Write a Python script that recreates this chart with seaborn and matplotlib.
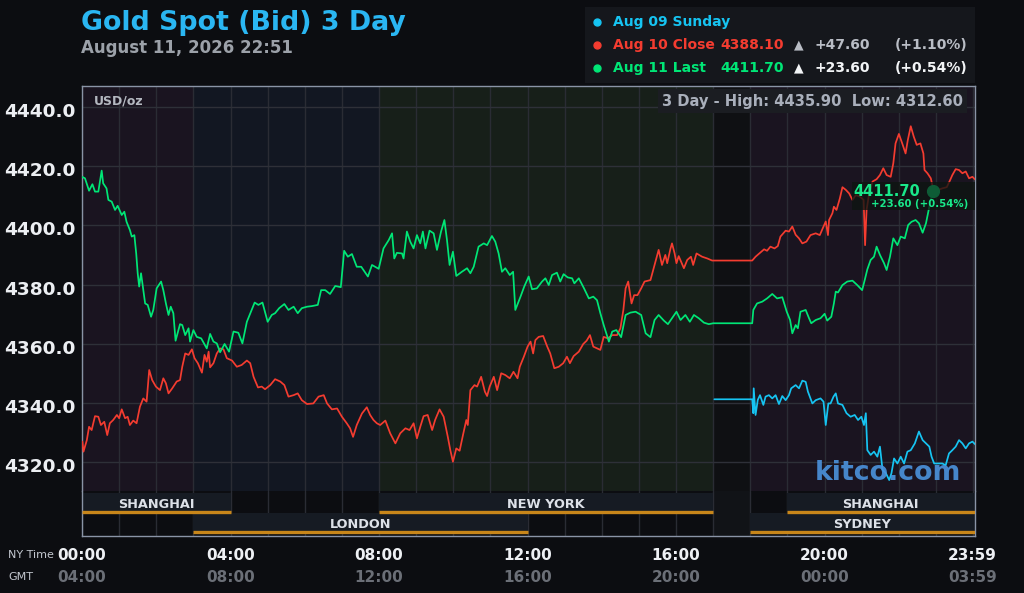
import matplotlib
matplotlib.use("Agg")
import matplotlib.pyplot as plt
import matplotlib.transforms as mtransforms
from matplotlib.patches import Rectangle
from matplotlib.lines import Line2D
import pandas as pd
import seaborn as sns

# --- data (NY time in hours, USD/oz) ---
aug11_hours = [0.0, 0.08, 0.19, 0.28, 0.35, 0.44, 0.53, 0.57, 0.66, 0.71, 0.8, 0.89, 0.96, 1.07, 1.14, 1.2,
               1.29, 1.34, 1.41, 1.46, 1.5, 1.54, 1.59, 1.65, 1.7, 1.77, 1.86, 1.92, 2.01, 2.13, 2.19, 2.26,
               2.33, 2.39, 2.46, 2.52, 2.64, 2.7, 2.78, 2.87, 2.91, 3.0, 3.09, 3.21, 3.36, 3.45, 3.54, 3.63,
               3.72, 3.84, 3.96, 4.08, 4.21, 4.32, 4.44, 4.65, 4.75, 4.86, 5.0, 5.11, 5.2, 5.31, 5.45, 5.56,
               5.7, 5.81, 5.92, 6.06, 6.19, 6.35, 6.44, 6.55, 6.68, 6.82, 6.97, 7.06, 7.16, 7.27, 7.4, 7.52,
               7.7, 7.81, 7.99, 8.12, 8.26, 8.35, 8.41, 8.48, 8.62, 8.66, 8.75, 8.84, 8.93, 9.02, 9.11, 9.18,
               9.25, 9.36, 9.47, 9.56, 9.67, 9.76, 9.83, 9.9, 9.99, 10.08, 10.23, 10.37, 10.46, 10.55, 10.68,
               10.82, 10.91, 11.04, 11.13, 11.22, 11.31, 11.4, 11.52, 11.61, 11.67, 11.81, 11.91, 12.03, 12.12,
               12.25, 12.39, 12.48, 12.57, 12.66, 12.79, 12.88, 12.97, 13.08, 13.2, 13.26, 13.38, 13.52, 13.65,
               13.77, 13.87, 13.96, 14.05, 14.19, 14.28, 14.39, 14.52, 14.64, 14.77, 14.91, 15.06, 15.18, 15.31,
               15.42, 15.53, 15.67, 15.78, 15.89, 16.01, 16.12, 16.25, 16.37, 16.48, 16.61, 16.75, 16.88, 17.0,
               18.05, 18.08, 18.18, 18.32, 18.45, 18.59, 18.72, 18.86, 18.98, 19.07, 19.13, 19.22, 19.28, 19.35,
               19.49, 19.58, 19.64, 19.76, 19.89, 20.0, 20.07, 20.18, 20.25, 20.3, 20.36, 20.48, 20.61, 20.75,
               20.88, 21.01, 21.08, 21.15, 21.24, 21.33, 21.4, 21.49, 21.6, 21.67, 21.76, 21.85, 21.96, 22.05,
               22.16, 22.25, 22.34, 22.45, 22.54, 22.64, 22.73, 22.82, 22.91]
aug11_prices = [4416.4, 4415.9, 4411.7, 4413.9, 4411.4, 4411.4, 4418.5, 4414.2, 4412.5, 4408.6, 4408.0, 4405.2,
                4406.6, 4403.5, 4404.6, 4401.2, 4398.4, 4396.2, 4396.7, 4390.5, 4383.8, 4379.3, 4383.8, 4378.1,
                4373.6, 4373.1, 4369.1, 4371.4, 4378.7, 4381.0, 4378.1, 4373.6, 4369.7, 4372.5, 4370.3, 4361.0,
                4366.6, 4366.3, 4362.9, 4365.2, 4360.7, 4364.6, 4362.3, 4361.8, 4358.4, 4363.3, 4360.7, 4360.1,
                4357.1, 4359.9, 4357.3, 4364.1, 4363.7, 4360.1, 4367.4, 4373.9, 4373.1, 4373.9, 4367.4, 4369.7,
                4370.3, 4372.0, 4373.4, 4371.4, 4372.5, 4370.3, 4372.0, 4372.5, 4372.7, 4373.1, 4378.1, 4378.1,
                4376.8, 4379.5, 4379.1, 4391.4, 4389.4, 4390.3, 4386.0, 4386.0, 4382.7, 4386.6, 4385.3, 4392.2,
                4395.0, 4397.3, 4388.8, 4390.7, 4390.5, 4388.8, 4397.9, 4394.5, 4392.2, 4396.7, 4393.9, 4397.9,
                4392.2, 4398.2, 4397.3, 4391.7, 4397.9, 4401.8, 4395.0, 4386.6, 4391.1, 4382.9, 4384.3, 4385.5,
                4383.8, 4386.0, 4392.8, 4393.9, 4393.3, 4396.4, 4394.5, 4390.5, 4384.3, 4385.5, 4383.2, 4384.3,
                4371.4, 4375.9, 4379.3, 4382.7, 4378.4, 4378.7, 4381.0, 4382.1, 4379.8, 4383.2, 4384.0, 4381.0,
                4383.5, 4382.4, 4382.1, 4380.4, 4382.1, 4378.7, 4375.3, 4375.9, 4374.7, 4370.3, 4366.3, 4360.7,
                4364.1, 4364.6, 4362.2, 4369.7, 4370.5, 4370.8, 4369.7, 4363.5, 4362.2, 4368.0, 4369.7, 4367.8,
                4366.6, 4368.6, 4370.8, 4368.0, 4369.7, 4367.4, 4369.7, 4368.6, 4367.1, 4366.6, 4366.9, 4366.9,
                4371.4, 4373.6, 4374.2, 4375.3, 4376.8, 4375.3, 4375.7, 4370.8, 4368.0, 4363.5, 4366.3, 4365.2,
                4370.8, 4371.4, 4368.6, 4366.9, 4368.0, 4368.6, 4370.1, 4367.8, 4369.1, 4373.6, 4377.6, 4377.3,
                4379.8, 4381.0, 4381.3, 4379.8, 4378.1, 4381.5, 4385.1, 4388.3, 4389.4, 4392.8, 4390.0, 4387.2,
                4384.9, 4389.4, 4395.6, 4393.3, 4396.2, 4395.6, 4400.1, 4401.2, 4401.8, 4400.7, 4397.5, 4400.7,
                4406.3, 4411.7]

aug10_hours = [0.01, 0.04, 0.13, 0.19, 0.26, 0.35, 0.44, 0.51, 0.6, 0.68, 0.75, 0.84, 0.94, 1.0, 1.07, 1.16,
               1.23, 1.29, 1.38, 1.47, 1.56, 1.65, 1.74, 1.81, 1.89, 1.99, 2.1, 2.19, 2.26, 2.33, 2.43, 2.55,
               2.64, 2.7, 2.78, 2.87, 2.96, 3.03, 3.12, 3.23, 3.3, 3.36, 3.41, 3.45, 3.54, 3.63, 3.72, 3.81,
               3.9, 4.04, 4.17, 4.3, 4.44, 4.53, 4.62, 4.74, 4.84, 4.93, 5.07, 5.2, 5.34, 5.45, 5.56, 5.7,
               5.81, 5.92, 6.06, 6.23, 6.37, 6.51, 6.6, 6.73, 6.87, 7.0, 7.13, 7.22, 7.3, 7.4, 7.54, 7.67,
               7.76, 7.85, 7.94, 8.03, 8.17, 8.3, 8.44, 8.57, 8.71, 8.82, 8.93, 9.02, 9.11, 9.2, 9.31, 9.43,
               9.51, 9.63, 9.74, 9.85, 9.92, 9.99, 10.08, 10.17, 10.26, 10.35, 10.39, 10.46, 10.57, 10.64,
               10.75, 10.85, 10.91, 10.98, 11.09, 11.18, 11.29, 11.4, 11.52, 11.62, 11.73, 11.79, 11.9, 12.0,
               12.08, 12.15, 12.21, 12.3, 12.42, 12.53, 12.61, 12.72, 12.84, 12.96, 13.06, 13.14, 13.24, 13.38,
               13.5, 13.59, 13.68, 13.77, 13.87, 13.96, 14.05, 14.16, 14.28, 14.41, 14.5, 14.58, 14.64, 14.71,
               14.76, 14.8, 14.87, 14.96, 15.06, 15.15, 15.31, 15.42, 15.53, 15.62, 15.71, 15.76, 15.85, 15.89,
               15.96, 16.01, 16.07, 16.21, 16.3, 16.4, 16.46, 16.55, 16.7, 16.84, 16.97, 18.05, 18.14, 18.26,
               18.37, 18.45, 18.54, 18.65, 18.74, 18.81, 18.95, 19.04, 19.13, 19.22, 19.31, 19.4, 19.51, 19.62,
               19.76, 19.87, 19.97, 20.03, 20.09, 20.12, 20.21, 20.25, 20.32, 20.41, 20.48, 20.57, 20.66, 20.75,
               20.84, 20.95, 21.05, 21.09, 21.13, 21.2, 21.29, 21.4, 21.49, 21.58, 21.67, 21.78, 21.85, 21.91,
               22.0, 22.09, 22.18, 22.24, 22.32, 22.4, 22.48, 22.58, 22.66, 22.69, 22.77, 22.86, 22.93, 23.04,
               23.17, 23.29, 23.38, 23.44, 23.53, 23.62, 23.71, 23.8, 23.89, 23.98, 24.07]
aug10_prices = [4326.9, 4323.5, 4327.4, 4331.9, 4330.8, 4335.5, 4335.3, 4332.5, 4333.6, 4329.1, 4333.1, 4334.2,
                4335.9, 4334.8, 4337.8, 4334.8, 4335.3, 4332.5, 4334.0, 4333.1, 4338.7, 4341.5, 4340.4, 4351.1,
                4347.7, 4345.5, 4344.3, 4348.3, 4346.6, 4343.2, 4344.9, 4347.2, 4347.7, 4352.2, 4356.7, 4356.2,
                4358.1, 4355.1, 4353.4, 4350.2, 4356.2, 4353.9, 4357.3, 4352.0, 4353.4, 4356.7, 4358.4, 4358.1,
                4355.1, 4354.3, 4352.2, 4352.8, 4354.3, 4353.4, 4348.8, 4345.2, 4345.5, 4344.6, 4346.0, 4348.0,
                4347.2, 4346.0, 4342.1, 4342.6, 4343.2, 4340.9, 4339.6, 4339.8, 4342.1, 4342.6, 4339.8, 4337.8,
                4338.1, 4335.3, 4333.1, 4331.4, 4328.5, 4332.5, 4336.4, 4338.5, 4335.9, 4334.2, 4333.1, 4332.5,
                4334.0, 4329.7, 4326.3, 4329.7, 4331.4, 4330.8, 4333.1, 4328.0, 4331.9, 4335.5, 4335.9, 4330.8,
                4334.2, 4337.8, 4335.3, 4328.6, 4324.0, 4320.1, 4324.6, 4323.8, 4329.1, 4334.2, 4332.5, 4344.3,
                4346.0, 4345.5, 4348.8, 4343.8, 4342.3, 4345.5, 4348.8, 4344.3, 4350.0, 4349.4, 4348.3, 4350.5,
                4348.3, 4352.2, 4355.6, 4359.0, 4360.7, 4356.7, 4361.2, 4362.3, 4362.6, 4359.0, 4356.7, 4351.7,
                4352.2, 4353.4, 4355.6, 4353.4, 4355.8, 4357.3, 4359.9, 4361.0, 4362.9, 4359.0, 4358.4, 4357.9,
                4362.3, 4361.8, 4362.9, 4362.9, 4365.2, 4371.4, 4378.7, 4381.0, 4377.0, 4373.6, 4376.4, 4376.4,
                4378.7, 4381.0, 4381.5, 4386.6, 4391.7, 4386.6, 4390.0, 4387.2, 4392.2, 4393.9, 4390.5, 4387.2,
                4389.6, 4385.5, 4388.3, 4389.4, 4386.6, 4390.5, 4389.4, 4388.8, 4388.1, 4388.1, 4389.4, 4390.7,
                4391.9, 4391.4, 4392.8, 4392.2, 4393.0, 4396.2, 4398.2, 4397.9, 4399.6, 4396.8, 4395.6, 4393.9,
                4394.5, 4396.7, 4397.3, 4396.7, 4399.6, 4401.3, 4396.7, 4401.8, 4404.1, 4406.3, 4405.2, 4409.1,
                4412.9, 4412.0, 4410.8, 4408.6, 4410.2, 4409.7, 4408.6, 4393.3, 4405.2, 4410.8, 4414.8, 4415.6,
                4417.0, 4419.3, 4417.0, 4416.4, 4421.0, 4427.7, 4430.9, 4427.7, 4424.3, 4428.8, 4433.5, 4430.0,
                4427.2, 4427.7, 4424.3, 4418.7, 4417.6, 4415.9, 4411.9, 4411.9, 4412.5, 4412.9, 4415.3, 4417.0,
                4419.0, 4418.7, 4417.6, 4418.2, 4415.9, 4416.4, 4415.3]

aug09_hours = [17.03, 18.05, 18.08, 18.09, 18.14, 18.2, 18.26, 18.35, 18.41, 18.5, 18.59, 18.68, 18.77, 18.86,
               18.95, 19.04, 19.1, 19.22, 19.31, 19.4, 19.49, 19.55, 19.67, 19.76, 19.89, 19.97, 20.03, 20.1,
               20.16, 20.24, 20.3, 20.36, 20.48, 20.59, 20.7, 20.81, 20.9, 20.99, 21.06, 21.11, 21.15, 21.24,
               21.33, 21.42, 21.49, 21.56, 21.65, 21.74, 21.8, 21.87, 21.96, 22.05, 22.14, 22.23, 22.32, 22.43,
               22.54, 22.64, 22.73, 22.82, 22.88, 22.95, 23.06, 23.17, 23.26, 23.35, 23.44, 23.53, 23.62, 23.71,
               23.8, 23.89, 23.98, 24.07]
aug09_prices = [4341.2, 4341.2, 4336.5, 4344.9, 4335.9, 4341.0, 4342.6, 4339.3, 4342.1, 4342.6, 4341.5, 4342.6,
                4339.6, 4342.3, 4340.9, 4342.6, 4344.9, 4346.0, 4344.9, 4347.5, 4347.1, 4343.8, 4339.8, 4340.9,
                4341.5, 4340.4, 4332.5, 4339.8, 4339.8, 4342.1, 4343.2, 4339.8, 4339.3, 4336.5, 4335.3, 4335.9,
                4334.2, 4335.3, 4332.5, 4336.5, 4324.0, 4322.4, 4323.5, 4321.8, 4325.2, 4317.3, 4316.2, 4313.9,
                4316.2, 4321.2, 4319.5, 4321.8, 4319.5, 4323.5, 4324.0, 4326.3, 4330.3, 4327.4, 4326.3, 4325.2,
                4321.8, 4319.5, 4319.5, 4319.5, 4318.9, 4322.9, 4324.0, 4325.2, 4327.4, 4326.3, 4324.6, 4326.3,
                4326.9, 4325.8]

y_ticks = [4320, 4340, 4360, 4380, 4400, 4420, 4440]
ny_ticks = [0, 4, 8, 12, 16, 20, 23.98]
ny_labels = ["00:00", "04:00", "08:00", "12:00", "16:00", "20:00", "23:59"]
gmt_labels = ["04:00", "08:00", "12:00", "16:00", "20:00", "00:00", "03:59"]

# shaded trading periods in the price panel (start, end, colour)
shade_spans = [(0, 3, "#1a1420"), (3, 8, "#121722"), (8, 17, "#171f19"),
               (17, 18, "#0f1013"), (18, 24.1, "#1a1420")]
# exchange sessions: (name, start, end, row)
sessions = [("SHANGHAI", 0, 4, 1), ("LONDON", 3, 12, 0), ("NEW YORK", 8, 17, 1),
            ("SHANGHAI", 19, 24.1, 1), ("SYDNEY", 18, 24.1, 0)]

BG = "#0c0d11"
GREEN = "#00e676"
RED = "#f43c30"
BLUE = "#16c4f2"

sns.set_theme(style="dark")
plt.rcParams["font.family"] = ["DejaVu Sans"]

fig = plt.figure(figsize=(10.24, 5.93), dpi=100, facecolor=BG)


def px(x, y):
    return x / 1024, 1 - y / 593


ax = fig.add_axes([82 / 1024, 1 - 491 / 593, 893 / 1024, 405 / 593])
sx = fig.add_axes([82 / 1024, 1 - 536 / 593, 893 / 1024, 45 / 593], sharex=ax)

for a in (ax, sx):
    a.set_facecolor(BG)
    a.set_xlim(0, 24.05)
    a.set_xticks(range(0, 25))
    a.grid(True, axis="x", color="#2a2c34", linewidth=1.0)
    a.tick_params(axis="x", length=0, labelbottom=False)
    for s in a.spines.values():
        s.set_color("#8a94a6")
        s.set_linewidth(1.0)

ax.spines["bottom"].set_visible(False)
sx.spines["top"].set_visible(False)

for start, end, col in shade_spans:
    ax.axvspan(start, end, color=col, zorder=0, lw=0)

ax.set_ylim(4310.2, 4447.1)
ax.set_yticks(y_ticks)
ax.set_yticklabels([f"{v:.1f}" for v in y_ticks])
ax.grid(True, axis="y", color="#2e3038", linewidth=1.0)
ax.tick_params(axis="y", length=0, pad=5, labelsize=13.3, labelcolor="#eceef2")
for lab in ax.get_yticklabels():
    lab.set_fontweight("bold")
    lab.set_transform(lab.get_transform() + mtransforms.ScaledTranslation(0, -3 / 100, fig.dpi_scale_trans))

frames = [
    pd.DataFrame({"hour": aug10_hours, "price": aug10_prices}),
    pd.DataFrame({"hour": aug11_hours, "price": aug11_prices}),
    pd.DataFrame({"hour": aug09_hours, "price": aug09_prices}),
]
for df, col in zip(frames, [RED, GREEN, BLUE]):
    sns.lineplot(data=df, x="hour", y="price", ax=ax, color=col, linewidth=1.25,
                 estimator=None, sort=False, legend=False, zorder=3)
ax.set_xlabel("")
ax.set_ylabel("")

# last price marker and label box (box given in pixels around the last point)
last_h, last_p = aug11_hours[-1], aug11_prices[-1]
at_last = mtransforms.IdentityTransform() + mtransforms.ScaledTranslation(last_h, last_p, ax.transData)
ax.add_patch(Rectangle((-81, -19.5), 126, 28, transform=at_last, facecolor="#0e1511", edgecolor="none",
                       alpha=0.78, zorder=4))
ax.plot([last_h], [last_p], marker="o", markersize=8.5, color="#0e5c36", zorder=5)
ax.annotate("4411.70", xy=(last_h, last_p), xytext=(-79, -1), textcoords="offset pixels",
            ha="left", va="center", color="#19e88a", fontsize=10.5, fontweight="bold", zorder=6)
ax.annotate("+23.60 (+0.54%)", xy=(last_h, last_p), xytext=(-62, -13), textcoords="offset pixels",
            ha="left", va="center", color="#19e88a", fontsize=7.3, fontweight="bold", zorder=6)

ax.text(0.0134, 0.962, "USD/oz", transform=ax.transAxes, color="#b4b8c0", fontsize=9,
        fontweight="bold", va="center", ha="left")
ax.text(21.71, 4316.2, "kitco.com", color="#4b93de", fontsize=19.3, fontweight="bold",
        ha="center", va="center", alpha=0.9, zorder=7)

# high / low box
ax.text(0.9865, 0.962, "3 Day - High: 4435.90  Low: 4312.60", transform=ax.transAxes, ha="right",
        va="center", color="#a9afbb", fontsize=10.6, fontweight="bold", zorder=8,
        bbox=dict(boxstyle="square,pad=0.3", fc="#1b1d22", ec="none"))

# session panel
sx.set_ylim(0, 45)
sx.set_yticks([])
sx.axvspan(17, 18, color="#111317", lw=0, zorder=0)
for name, start, end, row in sessions:
    y0 = 3 + row * 20
    sx.add_patch(Rectangle((start, y0), end - start, 20, color="#161b23", lw=0, zorder=1))
    sx.hlines(y0 + 1.5, start, end, color="#c8861a", linewidth=2.4, zorder=3)
    sx.text((start + min(end, 24)) / 2, y0 + 8.5, name, ha="center", va="center", color="#dde1e8",
            fontsize=9.3, fontweight="bold", zorder=4)

# x labels: NY time and GMT
blend = mtransforms.blended_transform_factory(ax.transData, fig.transFigure)
for h, ny, gmt in zip(ny_ticks, ny_labels, gmt_labels):
    fig.text(h, 1 - 555 / 593, ny, transform=blend, ha="center", va="center", color="#eef0f4",
             fontsize=11, fontweight="bold")
    fig.text(h, 1 - 577 / 593, gmt, transform=blend, ha="center", va="center", color="#6b6f77",
             fontsize=11, fontweight="bold")
fig.text(*px(8, 555), "NY Time", ha="left", va="center", color="#c4c8d0", fontsize=8)
fig.text(*px(8, 577), "GMT", ha="left", va="center", color="#c4c8d0", fontsize=8)

# title
fig.text(*px(81, 23), "Gold Spot (Bid) 3 Day", ha="left", va="center", color="#2ab6f2",
         fontsize=19.3, fontweight="bold")
fig.text(*px(81, 48), "August 11, 2026 22:51", ha="left", va="center", color="#9ca1a9",
         fontsize=12, fontweight="bold")

# legend box
fig.patches.append(Rectangle(px(585, 83), 390 / 1024, 76 / 593, transform=fig.transFigure,
                             facecolor="#15171c", edgecolor="none", zorder=0))
rows = [
    (22, BLUE, "Aug 09 Sunday", None),
    (45, RED, "Aug 10 Close", ("4388.10", "+47.60", "(+1.10%)", "#b9bdc5")),
    (68, GREEN, "Aug 11 Last", ("4411.70", "+23.60", "(+0.54%)", "#f2f4f6")),
]
for y, col, label, extra in rows:
    fig.add_artist(Line2D([597 / 1024], [1 - y / 593], marker="o", markersize=5, color=col,
                          transform=fig.transFigure))
    fig.text(*px(613, y), label, ha="left", va="center", color=col, fontsize=10, fontweight="bold")
    if extra:
        price, chg, pct, ecol = extra
        fig.text(*px(784, y), price, ha="right", va="center", color=col, fontsize=10, fontweight="bold")
        fig.text(*px(799, y), "▲", ha="center", va="center", color=ecol, fontsize=9)
        fig.text(*px(815, y), chg, ha="left", va="center", color=ecol, fontsize=10, fontweight="bold")
        fig.text(*px(967, y), pct, ha="right", va="center", color=ecol, fontsize=10, fontweight="bold")

fig.savefig("out.png", dpi=100, facecolor=BG)
